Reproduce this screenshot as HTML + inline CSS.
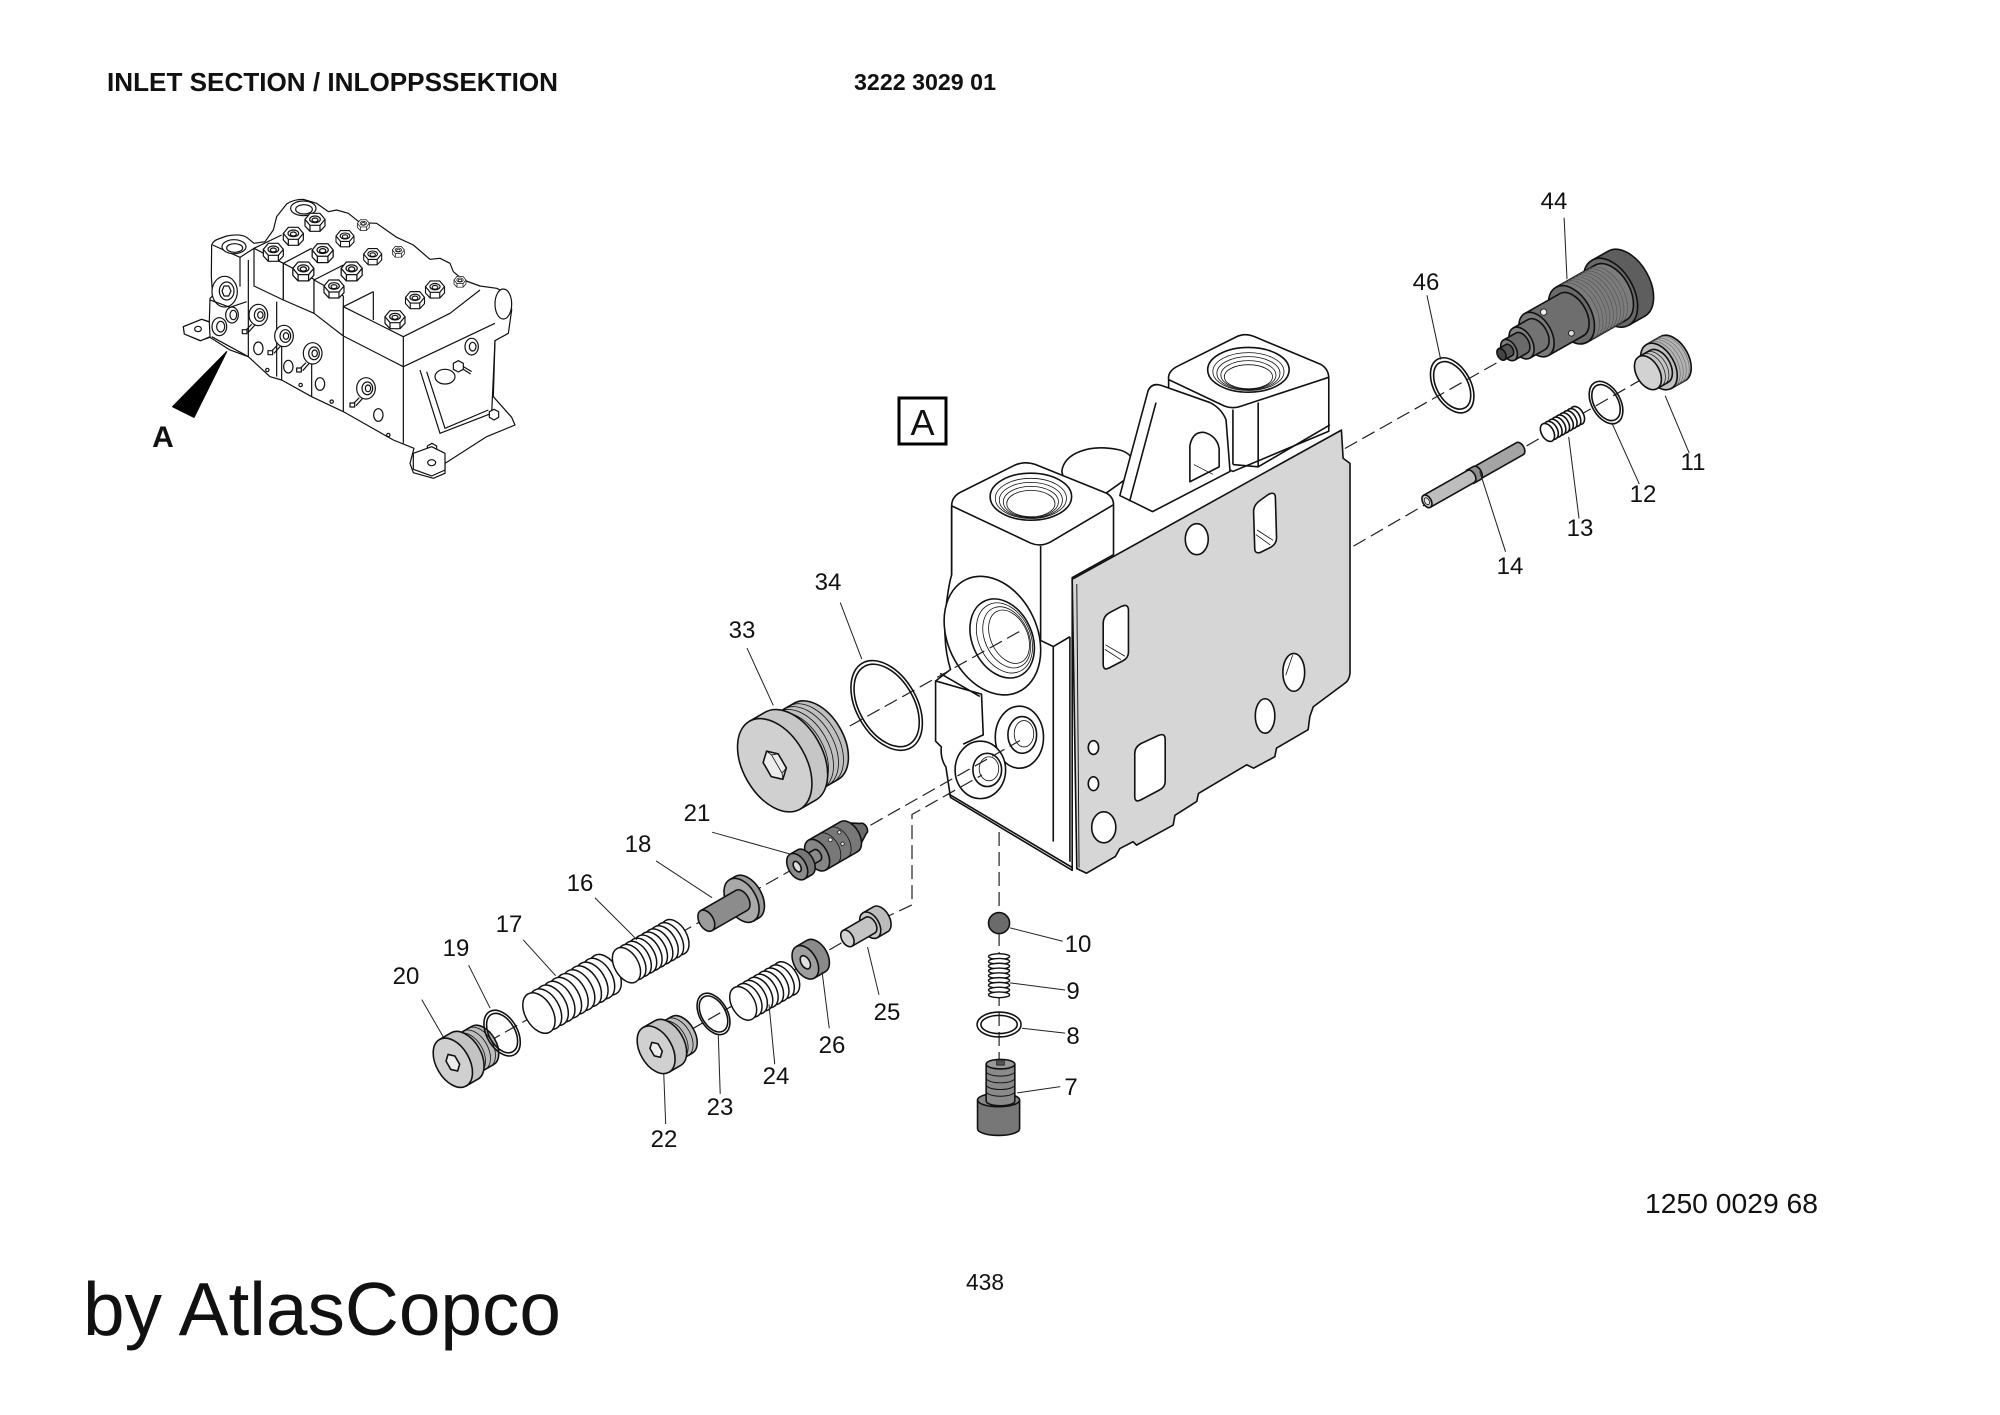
<!DOCTYPE html>
<html><head><meta charset="utf-8"><style>
html,body{margin:0;padding:0;background:#fff;}
svg{display:block;}
text{font-family:"Liberation Sans",Arial,sans-serif;fill:#111;}
</style></head><body>
<svg xmlns="http://www.w3.org/2000/svg" xmlns:xlink="http://www.w3.org/1999/xlink" width="2000" height="1415" viewBox="0 0 2000 1415">
<rect width="2000" height="1415" fill="#fff"/>
<defs>
<g id="hb">
<path d="M-30,0 L-30,20 L-15,36 L15,36 L30,20 L30,0 Z"/>
<polygon points="-30,0 -15,-18 15,-18 30,0 15,18 -15,18"/>
<path d="M-15,18 L-15,36 M15,18 L15,36" fill="none"/>
<ellipse rx="16" ry="10"/>
<ellipse cy="2" rx="9" ry="6"/>
</g>
<g id="sol">
<ellipse rx="28" ry="32"/>
<ellipse cx="4" rx="16" ry="19"/>
<ellipse cx="6" rx="8" ry="10"/>
<path d="M-20,28 L-40,48 M-10,30 L-30,52" fill="none"/>
<rect x="-48" y="44" width="14" height="12"/>
</g>
</defs>

<!-- Header texts -->
<text x="107" y="91" font-size="26" font-weight="bold" textLength="451" lengthAdjust="spacingAndGlyphs">INLET SECTION / INLOPPSSEKTION</text>
<text x="854" y="90" font-size="23.5" font-weight="bold" textLength="142" lengthAdjust="spacingAndGlyphs">3222 3029 01</text>

<!-- Thumbnail -->
<g transform="translate(130,180) scale(0.33333)" fill="#fff" stroke="#111" stroke-width="3.6" stroke-linejoin="round">
<path d="M160,440 L215,418 L238,425 L240,355 L248,348 L244,290 L245,195 Q250,182 265,177 L290,168 Q330,160 350,172 L372,190 L405,185 L430,150 L440,110 L470,72 Q490,58 520,58 L560,70 L595,95 L620,90 L655,100 L690,128 L740,130 L800,172 L850,195 L900,238 L930,235 L960,250 L970,275 L1000,300 L1050,318 L1100,325 L1140,345 L1145,390 L1135,460 L1095,482 L1090,650 L1145,712 L1155,735 L1070,770 L945,850 L945,880 L910,895 L850,878 L840,850 L852,805 L790,780 L640,695 L545,650 L455,600 L420,590 L355,530 L300,510 L240,472 L210,482 L163,462 Z"/>
<path d="M248,195 L330,232 L372,205" fill="none"/>
<path d="M330,232 L330,320 M355,240 L355,530" fill="none"/>
<ellipse cx="312" cy="200" rx="36" ry="21"/>
<ellipse cx="314" cy="204" rx="24" ry="13"/>
<ellipse cx="284" cy="335" rx="38" ry="46"/>
<ellipse cx="290" cy="333" rx="22" ry="27"/>
<polygon points="282,318 296,318 303,333 296,348 282,348 276,333"/>
<path d="M240,360 L300,382 L350,365" fill="none"/>
<ellipse cx="268" cy="440" rx="22" ry="27"/><ellipse cx="272" cy="440" rx="12" ry="16"/>
<ellipse cx="306" cy="405" rx="19" ry="24"/><ellipse cx="310" cy="405" rx="10" ry="14"/>
<path d="M160,440 L215,418 L238,426 L240,470 L212,482 L163,462 Z"/>
<ellipse cx="204" cy="447" rx="10" ry="8"/>
<path d="M245,470 L355,530" fill="none"/>
<path d="M372,205 L460,250 L460,360 L372,318 Z"/>
<path d="M460,250 L552,298 L552,400 L460,360 Z"/>
<path d="M552,300 L640,348 L640,468 L552,400 Z"/>
<path d="M640,380 L820,470 L820,560 L640,468 Z"/>
<path d="M372,205 L455,165 M460,250 L545,205 M552,300 L640,255 M640,380 L730,335 M820,470 L960,400 L1050,330 M820,560 L1095,430" fill="none"/>
<path d="M440,365 L440,590 M455,480 L455,600 M545,520 L545,650 M640,470 L640,695 M820,560 L820,790 M730,335 L730,420" fill="none"/>
<use xlink:href="#hb" transform="translate(430,208)"/>
<use xlink:href="#hb" transform="translate(490,160)"/>
<ellipse cx="520" cy="85" rx="38" ry="22"/><ellipse cx="522" cy="88" rx="25" ry="14"/>
<use xlink:href="#hb" transform="translate(555,118)"/>
<use xlink:href="#hb" transform="translate(520,265) scale(1.05)"/>
<use xlink:href="#hb" transform="translate(578,210) scale(1.05)"/>
<use xlink:href="#hb" transform="translate(645,168) scale(0.9)"/>
<use xlink:href="#hb" transform="translate(612,318)"/>
<use xlink:href="#hb" transform="translate(665,265) scale(1.05)"/>
<use xlink:href="#hb" transform="translate(728,222) scale(0.9)"/>
<use xlink:href="#hb" transform="translate(795,410)"/>
<use xlink:href="#hb" transform="translate(855,352) scale(0.95)"/>
<use xlink:href="#hb" transform="translate(915,320) scale(0.95)"/>
<use xlink:href="#hb" transform="translate(990,300) scale(0.6)"/>
<use xlink:href="#hb" transform="translate(805,210) scale(0.6)"/>
<use xlink:href="#hb" transform="translate(700,130) scale(0.6)"/>
<use xlink:href="#sol" transform="translate(385,405)"/>
<use xlink:href="#sol" transform="translate(462,468)"/>
<use xlink:href="#sol" transform="translate(548,520)"/>
<use xlink:href="#sol" transform="translate(708,625)"/>
<ellipse cx="385" cy="505" rx="14" ry="19"/>
<ellipse cx="475" cy="560" rx="14" ry="19"/>
<ellipse cx="570" cy="612" rx="14" ry="19"/>
<ellipse cx="745" cy="705" rx="14" ry="19"/>
<circle cx="412" cy="570" r="5"/><circle cx="512" cy="615" r="5"/><circle cx="605" cy="665" r="5"/><circle cx="775" cy="765" r="5"/>
<path d="M870,570 L930,760 L1085,700 L1095,480 M890,575 L945,745 L1075,690" fill="none"/>
<ellipse cx="945" cy="590" rx="30" ry="22"/>
<ellipse cx="1025" cy="500" rx="20" ry="25"/><ellipse cx="1028" cy="500" rx="10" ry="13"/>
<ellipse cx="1120" cy="372" rx="25" ry="45"/>
<polygon points="970,550 985,542 1000,550 1000,568 985,576 970,568"/>
<path d="M1000,560 L1025,575 M1000,568 L1022,582" fill="none"/>
<polygon points="1078,695 1092,688 1106,695 1106,712 1092,720 1078,712"/>
<polygon points="892,798 906,790 920,798 920,815 906,822 892,815"/>
<path d="M850,820 L905,800 L945,820 L945,870 L905,888 L850,868 Z"/>
<ellipse cx="905" cy="848" rx="12" ry="9"/>
<polygon points="128,680 192,712 290,515" fill="#000" stroke="#000"/>
</g>
<text x="163" y="447" font-size="30" font-weight="bold" text-anchor="middle">A</text>

<!-- A box -->
<rect x="899" y="398" width="47" height="46" fill="none" stroke="#000" stroke-width="3"/>
<text x="922.5" y="435" font-size="36" text-anchor="middle">A</text>

<!-- Main body (zoom5 coords) -->
<g transform="translate(900,150) scale(0.574)" fill="#fff" stroke="#111" stroke-width="2.8" stroke-linejoin="round">
<path d="M282,560 C285,528 330,512 380,522 C400,526 410,540 412,560 L300,640 Z"/>
<path d="M468,400 Q466,385 485,376 L585,326 Q600,318 617,325 L732,373 Q747,381 747,398 L747,490 L580,560 L468,505 Z"/>
<path d="M468,400 L565,446 Q580,452 595,446 L747,396" fill="none"/>
<path d="M580,452 L580,548 M624,440 L624,552 M580,548 L624,552 L749,479" fill="none"/>
<ellipse cx="607" cy="383" rx="71" ry="39"/>
<g fill="none" stroke-width="1.4">
<ellipse cx="607" cy="386" rx="62" ry="33"/>
<ellipse cx="607" cy="389" rx="55" ry="29"/>
<ellipse cx="607" cy="392" rx="48" ry="25"/>
<ellipse cx="607" cy="395" rx="42" ry="21"/>
</g>
<path d="M383,602 L432,420 Q438,405 455,410 L540,440 Q560,450 568,470 L575,560 L440,630 Z"/>
<path d="M400,612 L446,440" fill="none"/>
<path d="M505,578 L505,515 Q510,490 530,492 Q552,498 556,520 L556,552 Z"/>
<path d="M512,548 L545,565" fill="none" stroke-width="1.4"/>
<path d="M90,620 Q90,603 108,595 L198,550 Q216,541 236,548 L360,598 Q372,605 372,618 L372,705 L300,745 L300,1255 L88,1128 L80,1075 Q70,1060 72,1040 L62,1030 L62,925 L88,905 Q74,860 80,800 Q84,760 90,740 Z"/>
<path d="M90,620 L228,685 Q245,692 262,683 L372,618" fill="none"/>
<path d="M245,690 L245,855" fill="none"/>
<path d="M90,620 L90,740" fill="none"/>
<ellipse cx="228" cy="604" rx="71" ry="41"/>
<g fill="none" stroke-width="1.4">
<ellipse cx="228" cy="607" rx="62" ry="35"/>
<ellipse cx="228" cy="610" rx="55" ry="31"/>
<ellipse cx="228" cy="613" rx="48" ry="27"/>
<ellipse cx="228" cy="616" rx="42" ry="23"/>
</g>
<ellipse cx="161" cy="846" rx="78" ry="108" transform="rotate(-25 161 846)"/>
<ellipse cx="178" cy="851" rx="52" ry="72" transform="rotate(-25 178 851)"/>
<g fill="none" stroke-width="1.4">
<ellipse cx="182" cy="850" rx="45" ry="64" transform="rotate(-25 182 850)"/>
<ellipse cx="186" cy="849" rx="38" ry="56" transform="rotate(-25 186 849)"/>
<ellipse cx="190" cy="848" rx="32" ry="49" transform="rotate(-25 190 848)"/>
</g>
<path d="M244,854 L267,865 L296,848" fill="none"/>
<path d="M267,865 L267,1205 M296,848 L296,1240" fill="none"/>
<path d="M62,925 L142,948 L145,1019 L110,1035 M70,912 L139,952" fill="none"/>
<ellipse cx="208" cy="1023" rx="42" ry="54"/>
<ellipse cx="213" cy="1019" rx="25" ry="32"/>
<ellipse cx="216" cy="1017" rx="17" ry="23" fill="none" stroke-width="1.4"/>
<ellipse cx="140" cy="1080" rx="44" ry="50"/>
<ellipse cx="152" cy="1080" rx="25" ry="29"/>
<ellipse cx="155" cy="1078" rx="17" ry="21" fill="none" stroke-width="1.4"/>
<path d="M85,1122 L300,1250" fill="none"/>
<!-- plate -->
<path d="M300,748 L769,488 L772,537 L784,546 L784,912 Q782,925 775,929 L720,970 L714,987 L711,1010 L656,1042 L653,1057 L616,1077 L604,1071 L520,1121 L517,1135 L479,1159 L476,1176 L412,1211 L406,1205 L383,1217 L375,1231 L325,1260 L308,1252 Z" fill="#d6d6d6"/>
<path d="M308,756 L312,1250" fill="none" stroke-width="1.6"/>
<path d="M616,630 Q616,618 628,610 L642,600 Q654,594 654,606 L656,676 Q656,686 646,692 L628,701 Q618,704 618,694 Z"/>
<path d="M622,662 L650,680 M620,670 L645,688" fill="none" stroke-width="1.4"/>
<ellipse cx="517" cy="678" rx="20" ry="27"/>
<path d="M354,825 Q354,812 365,806 L386,795 Q398,790 398,802 L398,875 Q398,885 388,890 L365,902 Q354,908 354,896 Z"/>
<path d="M358,862 L392,882 M357,870 L385,888" fill="none" stroke-width="1.4"/>
<ellipse cx="686" cy="910" rx="19" ry="33"/>
<path d="M672,915 L684,880" fill="none" stroke-width="1.4"/>
<ellipse cx="636" cy="986" rx="17" ry="30"/>
<path d="M409,1052 Q409,1040 420,1034 L450,1020 Q462,1015 462,1027 L462,1100 Q462,1110 452,1115 L420,1132 Q409,1138 409,1126 Z"/>
<ellipse cx="337" cy="1041" rx="9" ry="12"/>
<ellipse cx="337" cy="1104" rx="9" ry="12"/>
<ellipse cx="355" cy="1180" rx="21" ry="27"/>
</g>

<!-- Dashed center lines -->
<g fill="none" stroke="#222" stroke-width="1.2" stroke-dasharray="14 6">
<path d="M1344.9,448.5 L1502.7,359.5"/>
<path d="M1353.5,546.1 L1646.2,376.7"/>
<path d="M849.8,726 L1023.4,629.3"/>
<path d="M999.1,832 L999.1,1062"/>
<path d="M452.8,1061.8 L1020,740.5"/>
<path d="M656.1,1049.8 L885.7,917.3 L912,904.9 L912,814.5 L982,775"/>
</g>

<!-- Right parts (zoom5 coords) -->
<g transform="translate(900,150) scale(0.574)" stroke="#111" stroke-width="2.8" stroke-linejoin="round">
<g transform="translate(1048,356) rotate(-29.5)">
<path d="M218,-65 H250 A40,65 0 0 1 250,65 H218 Z" fill="#5e5e5e"/>
<ellipse cx="218" rx="40" ry="65" fill="#696969"/>
<path d="M140,-55 H218 A34,55 0 0 1 218,55 H140 Z" fill="#7c7c7c"/>
<path d="M150,-55 A34,55 0 0 1 150,55 M157,-55 A34,55 0 0 1 157,55 M164,-55 A34,55 0 0 1 164,55 M171,-55 A34,55 0 0 1 171,55 M178,-55 A34,55 0 0 1 178,55 M185,-55 A34,55 0 0 1 185,55 M192,-55 A34,55 0 0 1 192,55 M199,-55 A34,55 0 0 1 199,55 M206,-55 A34,55 0 0 1 206,55" fill="none" stroke="#555" stroke-width="1.2"/>
<ellipse cx="140" rx="34" ry="55" fill="#6a6a6a"/>
<path d="M70,-42 H140 A26,42 0 0 1 140,42 H70 Z" fill="#6e6e6e"/>
<circle cx="100" cy="-28" r="5.5" fill="#eee" stroke-width="1.4"/>
<circle cx="124" cy="28" r="5" fill="#ddd" stroke-width="1.4"/>
<ellipse cx="70" rx="26" ry="42" fill="#7a7a7a"/>
<path d="M40,-30 H70 A18.6,30 0 0 1 70,30 H40 Z" fill="#737373"/>
<ellipse cx="40" rx="18.6" ry="30" fill="#828282"/>
<path d="M15,-20 H40 A12.4,20 0 0 1 40,20 H15 Z" fill="#6a6a6a"/>
<ellipse cx="15" rx="12.4" ry="20" fill="#7c7c7c"/>
<path d="M0,-11 H15 A7,11 0 0 1 15,11 H0 Z" fill="#555"/>
<ellipse rx="7" ry="11" fill="#444"/>
</g>
<g transform="translate(962,410) rotate(-29.5)" fill="none">
<ellipse rx="32" ry="52"/><ellipse rx="27" ry="45"/>
</g>
<g transform="translate(918,612) rotate(-29.5)">
<path d="M95,-12 H186 A7.4,12 0 0 1 186,12 H95 Z" fill="#a4a4a4"/>
<path d="M86,-13 H100 A8,13 0 0 1 100,13 H86 Z" fill="#8e8e8e"/>
<path d="M0,-12 H88 A7.4,12 0 0 1 88,12 H0 Z" fill="#bdbdbd"/>
<ellipse rx="7.4" ry="12" fill="#d0d0d0"/>
<ellipse rx="4" ry="6.5" fill="#e6e6e6" stroke-width="1.4"/>
</g>
<g transform="translate(1128,492) rotate(-29.5)" fill="#fff">
<ellipse cx="60" rx="10.5" ry="17"/><ellipse cx="52.5" rx="10.5" ry="17"/><ellipse cx="45" rx="10.5" ry="17"/><ellipse cx="37.5" rx="10.5" ry="17"/><ellipse cx="30" rx="10.5" ry="17"/><ellipse cx="22.5" rx="10.5" ry="17"/><ellipse cx="15" rx="10.5" ry="17"/><ellipse cx="7.5" rx="10.5" ry="17"/><ellipse cx="0" rx="10.5" ry="17"/>
</g>
<g transform="translate(1230,440) rotate(-29.5)" fill="none">
<ellipse rx="25" ry="40"/><ellipse rx="21" ry="34"/>
</g>
<g transform="translate(1303,388) rotate(-29.5)">
<path d="M22,-44 H50 A27,44 0 0 1 50,44 H22 Z" fill="#b3b3b3"/>
<path d="M28,-44 A27,44 0 0 1 28,44 M34,-44 A27,44 0 0 1 34,44 M40,-44 A27,44 0 0 1 40,44 M46,-44 A27,44 0 0 1 46,44" fill="none" stroke="#666" stroke-width="1"/>
<ellipse cx="22" rx="27" ry="44" fill="#c0c0c0"/>
<path d="M0,-32 H22 A20,32 0 0 1 22,32 H0 Z" fill="#c4c4c4"/>
<path d="M8,-32 A20,32 0 0 1 8,32 M15,-32 A20,32 0 0 1 15,32" fill="none" stroke-width="1.2"/>
<ellipse rx="20" ry="32" fill="#d2d2d2"/>
</g>
<g fill="none" stroke="#222" stroke-width="1.8">
<path d="M1157,118 L1162,225"/>
<path d="M918,253 L942,365"/>
<path d="M1333,428 L1375,528"/>
<path d="M1240,475 L1288,582"/>
<path d="M1165,500 L1183,642"/>
<path d="M1010,560 L1055,700"/>
</g>
</g>

<!-- Left parts (zoom6 coords) -->
<g transform="translate(350,550) scale(0.4783)" stroke="#111" stroke-width="3.3" stroke-linejoin="round">
<!-- 33 -->
<g transform="translate(888,450) rotate(-30)">
<path d="M38,-92 H100 A57,92 0 0 1 100,92 H38 Z" fill="#c0c0c0"/>
<path d="M52,-92 A57,92 0 0 1 52,92 M64,-92 A57,92 0 0 1 64,92 M76,-92 A57,92 0 0 1 76,92 M88,-92 A57,92 0 0 1 88,92" fill="none" stroke-width="1.7"/>
<path d="M0,-106 H38 A65.7,106 0 0 1 38,106 H0 Z" fill="#c6c6c6"/>
<ellipse rx="65.7" ry="106" fill="#d0d0d0"/>
<polygon points="0,-34 18.2,-17 18.2,17 0,34 -18.2,17 -18.2,-17" fill="#ececec"/>
<path d="M0,-34 L5,-22 L5,22 L0,34 M5,-22 L18.2,-17 M5,22 L18.2,17" fill="none" stroke-width="1.7"/>
</g>
<g transform="translate(1122,325) rotate(-30)" fill="none">
<ellipse rx="63" ry="102"/><ellipse rx="57" ry="94"/>
</g>
<!-- 20 -->
<g transform="translate(215,1072) rotate(-30)">
<path d="M28,-46 H72 A28.5,46 0 0 1 72,46 H28 Z" fill="#bdbdbd"/>
<path d="M40,-46 A28.5,46 0 0 1 40,46 M52,-46 A28.5,46 0 0 1 52,46 M64,-46 A28.5,46 0 0 1 64,46" fill="none" stroke-width="1.7"/>
<path d="M0,-56 H28 A34.7,56 0 0 1 28,56 H0 Z" fill="#c3c3c3"/>
<ellipse rx="34.7" ry="56" fill="#d0d0d0"/>
<polygon points="0,-20 10.7,-10 10.7,10 0,20 -10.7,10 -10.7,-10" fill="#ececec"/>
</g>
<g transform="translate(318,1010) rotate(-30)" fill="none">
<ellipse rx="32" ry="52"/><ellipse rx="27" ry="45"/>
</g>
<!-- 17 -->
<g transform="translate(395,968) rotate(-30)" fill="#fff" stroke-width="3.1">
<ellipse cx="160" rx="28.5" ry="46"/><ellipse cx="144" rx="28.5" ry="46"/><ellipse cx="128" rx="28.5" ry="46"/><ellipse cx="112" rx="28.5" ry="46"/><ellipse cx="96" rx="28.5" ry="46"/><ellipse cx="80" rx="28.5" ry="46"/><ellipse cx="64" rx="28.5" ry="46"/><ellipse cx="48" rx="28.5" ry="46"/><ellipse cx="32" rx="28.5" ry="46"/><ellipse cx="16" rx="28.5" ry="46"/><ellipse cx="0" rx="28.5" ry="46"/>
</g>
<!-- 16 -->
<g transform="translate(578,868) rotate(-30)" fill="#fff" stroke-width="3.1">
<ellipse cx="117" rx="25" ry="40"/><ellipse cx="104" rx="25" ry="40"/><ellipse cx="91" rx="25" ry="40"/><ellipse cx="78" rx="25" ry="40"/><ellipse cx="65" rx="25" ry="40"/><ellipse cx="52" rx="25" ry="40"/><ellipse cx="39" rx="25" ry="40"/><ellipse cx="26" rx="25" ry="40"/><ellipse cx="13" rx="25" ry="40"/><ellipse cx="0" rx="25" ry="40"/>
</g>
<!-- 18 -->
<g transform="translate(745,775) rotate(-30)">
<path d="M98,-28 H108 A17,28 0 0 1 108,28 H98 Z" fill="#8a8a8a"/>
<path d="M85,-50 H98 A31,50 0 0 1 98,50 H85 Z" fill="#9a9a9a"/>
<ellipse cx="85" rx="31" ry="50" fill="#a9a9a9"/>
<path d="M0,-24 H85 A15,24 0 0 1 85,24 H0 Z" fill="#8c8c8c"/>
<ellipse rx="15" ry="24" fill="#9c9c9c"/>
</g>
<!-- 21 -->
<g transform="translate(935,662) rotate(-30)">
<path d="M125,-34 L160,-12 A7,12 0 0 1 160,12 L125,34 Z" fill="#6a6a6a"/>
<path d="M48,-36 H125 A22,36 0 0 1 125,36 H48 Z" fill="#787878"/>
<path d="M75,-36 A22,36 0 0 1 75,36 M100,-36 A22,36 0 0 1 100,36" fill="none" stroke-width="1.7"/>
<circle cx="88" cy="-14" r="4" fill="#eee" stroke-width="1.5"/>
<circle cx="106" cy="6" r="3.5" fill="#eee" stroke-width="1.5"/>
<circle cx="112" cy="-18" r="3.5" fill="#eee" stroke-width="1.5"/>
<ellipse cx="48" rx="22" ry="36" fill="#858585"/>
<path d="M18,-13 H48 A8,13 0 0 1 48,13 H18 Z" fill="#8a8a8a"/>
<path d="M0,-30 H18 A18.6,30 0 0 1 18,30 H0 Z" fill="#777"/>
<ellipse rx="18.6" ry="30" fill="#8b8b8b"/>
<ellipse rx="7" ry="12" fill="#ddd"/>
</g>
<!-- 22 -->
<g transform="translate(640,1045) rotate(-30)">
<path d="M28,-44 H62 A27.3,44 0 0 1 62,44 H28 Z" fill="#bdbdbd"/>
<path d="M40,-44 A27.3,44 0 0 1 40,44 M52,-44 A27.3,44 0 0 1 52,44" fill="none" stroke-width="1.7"/>
<path d="M0,-54 H28 A33.5,54 0 0 1 28,54 H0 Z" fill="#c3c3c3"/>
<ellipse rx="33.5" ry="54" fill="#d0d0d0"/>
<polygon points="0,-18 9.7,-9 9.7,9 0,18 -9.7,9 -9.7,-9" fill="#ececec"/>
</g>
<g transform="translate(760,970) rotate(-30)" fill="none">
<ellipse rx="29" ry="47"/><ellipse rx="25" ry="41"/>
</g>
<!-- 24 -->
<g transform="translate(822,948) rotate(-30)" fill="#fff" stroke-width="3.1">
<ellipse cx="104" rx="24" ry="38"/><ellipse cx="91" rx="24" ry="38"/><ellipse cx="78" rx="24" ry="38"/><ellipse cx="65" rx="24" ry="38"/><ellipse cx="52" rx="24" ry="38"/><ellipse cx="39" rx="24" ry="38"/><ellipse cx="26" rx="24" ry="38"/><ellipse cx="13" rx="24" ry="38"/><ellipse cx="0" rx="24" ry="38"/>
</g>
<!-- 26 -->
<g transform="translate(952,862) rotate(-30)">
<path d="M0,-38 H26 A23.5,38 0 0 1 26,38 H0 Z" fill="#8a8a8a"/>
<ellipse rx="23.5" ry="38" fill="#9e9e9e"/>
<ellipse rx="9" ry="15" fill="#e0e0e0"/>
</g>
<!-- 25 -->
<g transform="translate(1040,812) rotate(-30)">
<path d="M55,-30 H80 A18.6,30 0 0 1 80,30 H55 Z" fill="#bcbcbc"/>
<ellipse cx="55" rx="18.6" ry="30" fill="#c8c8c8"/>
<path d="M0,-19 H55 A11.8,19 0 0 1 55,19 H0 Z" fill="#c4c4c4"/>
<ellipse rx="11.8" ry="19" fill="#d2d2d2"/>
</g>
<!-- 10 ball -->
<circle cx="1357" cy="780" r="22" fill="#6b6b6b"/>
<!-- 9 spring -->
<g fill="#fff" stroke-width="3">
<ellipse cx="1357" cy="850" rx="22" ry="6"/><ellipse cx="1357" cy="860" rx="22" ry="6"/><ellipse cx="1357" cy="870" rx="22" ry="6"/><ellipse cx="1357" cy="880" rx="22" ry="6"/><ellipse cx="1357" cy="890" rx="22" ry="6"/><ellipse cx="1357" cy="900" rx="22" ry="6"/><ellipse cx="1357" cy="910" rx="22" ry="6"/><ellipse cx="1357" cy="920" rx="22" ry="6"/><ellipse cx="1357" cy="930" rx="22" ry="6"/>
</g>
<!-- 8 ring -->
<ellipse cx="1357" cy="992" rx="46" ry="26" fill="none"/>
<ellipse cx="1357" cy="992" rx="38" ry="19" fill="none"/>
<!-- 7 screw -->
<path d="M1312,1150 L1312,1210 A44,14 0 0 0 1400,1210 L1400,1150 Z" fill="#777"/>
<ellipse cx="1356" cy="1150" rx="44" ry="14" fill="#888"/>
<path d="M1330,1075 L1330,1152 A30,10 0 0 0 1390,1152 L1390,1075 Z" fill="#8a8a8a"/>
<path d="M1330,1090 A30,10 0 0 0 1390,1090 M1330,1104 A30,10 0 0 0 1390,1104 M1330,1118 A30,10 0 0 0 1390,1118 M1330,1132 A30,10 0 0 0 1390,1132" fill="none" stroke-width="2"/>
<ellipse cx="1360" cy="1075" rx="30" ry="10" fill="#9a9a9a"/>
<rect x="1352" y="1068" width="16" height="9" fill="#555" stroke-width="1.5"/>
<!-- leaders -->
<g fill="none" stroke="#222" stroke-width="2.1">
<path d="M1025,110 L1070,228"/>
<path d="M830,205 L885,325"/>
<path d="M757,590 L918,635"/>
<path d="M640,650 L757,727"/>
<path d="M512,727 L600,815"/>
<path d="M362,815 L430,890"/>
<path d="M248,868 L293,958"/>
<path d="M150,940 L195,1018"/>
<path d="M656,1095 L660,1200"/>
<path d="M770,1015 L774,1137"/>
<path d="M876,950 L888,1075"/>
<path d="M987,882 L1002,1000"/>
<path d="M1082,830 L1106,930"/>
<path d="M1380,790 L1490,818"/>
<path d="M1380,905 L1495,920"/>
<path d="M1405,1000 L1495,1010"/>
<path d="M1395,1135 L1485,1122"/>
</g>
</g>

<!-- Labels -->
<g font-size="24" text-anchor="middle">
<text x="1554" y="209">44</text>
<text x="1426" y="290">46</text>
<text x="1693" y="470">11</text>
<text x="1643" y="502">12</text>
<text x="1580" y="536">13</text>
<text x="1510" y="574">14</text>
<text x="828" y="590">34</text>
<text x="742" y="638">33</text>
<text x="697" y="821">21</text>
<text x="638" y="852">18</text>
<text x="580" y="891">16</text>
<text x="509" y="932">17</text>
<text x="456" y="956">19</text>
<text x="406" y="984">20</text>
<text x="664" y="1147">22</text>
<text x="720" y="1115">23</text>
<text x="776" y="1084">24</text>
<text x="832" y="1053">26</text>
<text x="887" y="1020">25</text>
<text x="1078" y="952">10</text>
<text x="1073" y="999">9</text>
<text x="1073" y="1044">8</text>
<text x="1071" y="1095">7</text>
</g>

<!-- Footer -->
<text x="1645" y="1213" font-size="28" textLength="173" lengthAdjust="spacingAndGlyphs">1250 0029 68</text>
<text x="966" y="1290" font-size="23" textLength="38" lengthAdjust="spacingAndGlyphs">438</text>
<text x="83" y="1335" font-size="75" textLength="478" lengthAdjust="spacingAndGlyphs">by AtlasCopco</text>
</svg>
</body></html>
